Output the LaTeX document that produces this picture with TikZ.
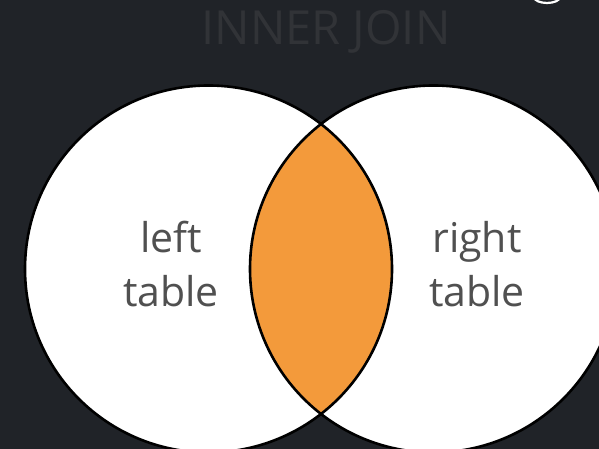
\documentclass[tikz,border=0pt]{standalone}
\usepackage{fontspec}
\setmainfont{Open Sans}
\usepackage{tikz}
\usetikzlibrary{positioning}
\definecolor{darkbg}{HTML}{202328}
\definecolor{titlegrey}{HTML}{313337}
\definecolor{textgrey}{HTML}{505050}
\definecolor{joinorange}{HTML}{F39A3B}
\tikzset{
  setcircle/.style={draw=black,line width=2.6pt},
  tbllbl/.style={font=\fontsize{41}{54}\selectfont,text=textgrey,align=center,inner sep=0pt,anchor=base},
  ttl/.style={font=\fontsize{47}{56}\selectfont,text=titlegrey,inner sep=0pt,anchor=base},
}

\begin{document}
\begin{tikzpicture}[x=1pt,y=1pt]
  \useasboundingbox (0,0) rectangle (599,449);
  \clip (0,0) rectangle (599,449);
  \fill[darkbg] (0,0) rectangle (599,449);

  \coordinate (lc) at (208.5,180);
  \coordinate (rc) at (433.5,180);

  % the two tables, white
  \fill[white] (lc) circle (183.5);
  \fill[white] (rc) circle (183.5);
  % the common part
  \begin{scope}
    \clip (lc) circle (183.5);
    \fill[joinorange] (rc) circle (183.5);
  \end{scope}
  \draw[setcircle] (lc) circle (183.5);
  \draw[setcircle] (rc) circle (183.5);

  \node[ttl] (title) at (326,404) {INNER JOIN};
  \node[tbllbl] (left) at (171,142) {left\\table};
  \node[tbllbl] (right) at (477,142) {right\\table};

  % cut-off glyph at the top edge
  \draw[white,line width=2.2pt] (534,452) arc[start angle=180,end angle=360,x radius=13,y radius=6];
\end{tikzpicture}
\end{document}
